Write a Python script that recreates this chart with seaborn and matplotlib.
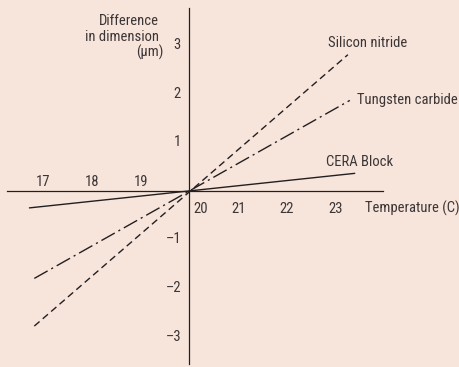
import pandas as pd
import matplotlib
matplotlib.use("Agg")
import matplotlib.pyplot as plt
import seaborn as sns

# line end points (all lines pass through 20 C, 0 um)
materials = ["Silicon nitride", "Tungsten carbide", "CERA Block"]
temp_start = [16.82, 16.82, 16.72]
temp_end = [23.25, 23.29, 23.39]
diff_start = [-2.78, -1.80, -0.35]
diff_end = [2.80, 1.86, 0.36]

x_ticks = [17, 18, 19, 20, 21, 22, 23]
y_ticks = [-3, -2, -1, 1, 2, 3]
y_title = ["Difference", "in dimension", "(\u03bcm)"]

bg = "#f7e5dc"
ink = "#3b3536"
line_col = "#231f20"

rows = []
for m, t0, t1, d0, d1 in zip(materials, temp_start, temp_end, diff_start, diff_end):
    rows.append({"material": m, "temp": t0, "diff": d0})
    rows.append({"material": m, "temp": t1, "diff": d1})
df = pd.DataFrame(rows)

sns.set_style("white")
plt.rcParams["font.family"] = ["Roboto Condensed", "DejaVu Sans"]

fig = plt.figure(figsize=(4.6, 3.67), dpi=100, facecolor=bg)
ax = fig.add_axes([7 / 460, 3 / 367, 376 / 460, 356 / 367])
ax.set_facecolor(bg)

sns.lineplot(
    data=df, x="temp", y="diff", hue="material", style="material",
    palette={m: line_col for m in materials},
    dashes={"Silicon nitride": (5, 3),
            "Tungsten carbide": (11, 3, 1.5, 3),
            "CERA Block": ""},
    linewidth=1.0, legend=False, ax=ax, estimator=None, sort=False,
)

ax.set_xlim(16.26, 23.97)
ax.set_ylim(-3.56, 3.76)

# axes crossing at (20, 0)
for s in ["top", "right"]:
    ax.spines[s].set_visible(False)
ax.spines["left"].set_position(("data", 20))
ax.spines["bottom"].set_position(("data", 0))
for s in ["left", "bottom"]:
    ax.spines[s].set_color(line_col)
    ax.spines[s].set_linewidth(0.9)

ax.set_xticks([t for t in x_ticks if t != 20])
ax.set_xticklabels([])
ax.set_yticks(y_ticks)
ax.set_yticklabels([])
ax.tick_params(axis="both", direction="out", length=3.3, width=0.7, color=line_col)
ax.set_xlabel("")
ax.set_ylabel("")

fs = 10.5
for t in x_ticks:
    if t < 20:
        ax.annotate(str(t), (t, 0), xytext=(0, 3.5), textcoords="offset points",
                    ha="center", va="baseline", fontsize=fs, color=ink)
    elif t == 20:
        ax.annotate(str(t), (t, 0), xytext=(8.3, -16), textcoords="offset points",
                    ha="center", va="baseline", fontsize=fs, color=ink)
    else:
        ax.annotate(str(t), (t, 0), xytext=(0, -16), textcoords="offset points",
                    ha="center", va="baseline", fontsize=fs, color=ink)

for v in y_ticks:
    label = str(v).replace("-", "\u2013")
    ax.annotate(label, (20, v), xytext=(-6, 0), textcoords="offset points",
                ha="right", va="center", fontsize=fs, color=ink)

# line labels
ax.annotate("Silicon nitride", (temp_end[0], diff_end[0]), xytext=(-14, 5.8),
            textcoords="offset points", ha="left", va="baseline", fontsize=fs, color=ink)
ax.annotate("Tungsten carbide", (temp_end[1], diff_end[1]), xytext=(4.8, -2.5),
            textcoords="offset points", ha="left", va="baseline", fontsize=fs, color=ink)
ax.annotate("CERA Block", (temp_end[2], diff_end[2]), xytext=(-20.4, 5.5),
            textcoords="offset points", ha="left", va="baseline", fontsize=fs, color=ink)

ax.annotate("Temperature (C)", (23.97, 0), xytext=(-13, -16), textcoords="offset points",
            ha="left", va="baseline", fontsize=fs, color=ink, annotation_clip=False)

for i, line in enumerate(y_title):
    ax.annotate(line, (20, 3.76), xytext=(-22 + (3 if i == 2 else 0), -12.2 - 11.5 * i),
                textcoords="offset points", ha="right", va="baseline",
                fontsize=fs, color=ink, annotation_clip=False)

fig.savefig("out.png", dpi=100, facecolor=bg)
